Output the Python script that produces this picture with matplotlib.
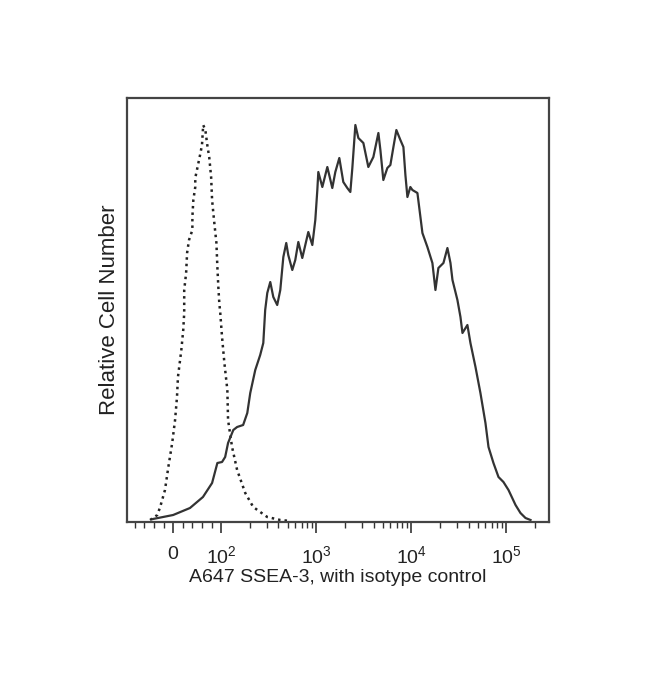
import matplotlib
matplotlib.use("Agg")
import matplotlib.pyplot as plt
from matplotlib.ticker import FixedLocator, NullLocator

plt.rcParams['font.family'] = ['Liberation Sans', 'DejaVu Sans']
plt.rcParams['mathtext.fontset'] = 'custom'
plt.rcParams['mathtext.rm'] = 'Liberation Sans'

# A647 SSEA-3 stained cells (solid line)
ssea3_x = [-42, 0, 35, 62, 81, 92, 102, 110, 118, 134, 147, 170, 188, 202,
           228, 257, 277, 290, 305, 328, 353, 388, 418, 450, 483, 507, 559,
           601, 647, 712, 766, 824, 908, 976, 1025, 1050, 1157, 1306, 1473,
           1585, 1746, 1923, 2118, 2280, 2393, 2575, 2768, 3126, 3525, 3981,
           4497, 4720, 5070, 5585, 6010, 6470, 6950, 7660, 8240, 8650, 9080,
           9750, 10250, 11570, 13060, 14730, 16630, 17900, 19230, 21730,
           23930, 25760, 27040, 30480, 32810, 34440, 38820, 41780, 47210,
           53210, 60100, 64700, 72950, 82400, 92900, 105000, 124500, 140300,
           158500, 179000]
ssea3_y = [0.5, 1.5, 3.25, 6, 9.5, 14.5, 14.75, 16, 19.5, 22.75, 23.5, 24,
           27, 32, 37.75, 41.5, 44.5, 52.75, 57, 59.75, 56, 54, 57.75, 66,
           69.5, 66.5, 62.75, 65.25, 69.75, 65.75, 69, 72.25, 69, 75.25,
           82.75, 87.25, 83.5, 88.5, 83.25, 87.25, 90.75, 84.75, 83.25,
           82.25, 88.25, 99, 95.75, 94.5, 88.5, 91, 97, 92.75, 85.25, 88.25,
           89, 93.5, 97.75, 95.25, 93.5, 86.5, 81, 83.5, 82.75, 82, 72, 68.5,
           64.5, 57.75, 63.25, 64.5, 68.25, 64.5, 60.25, 55.25, 51, 47, 49,
           44.5, 38.5, 32, 24.5, 18.5, 14.5, 11, 9.75, 7.75, 4, 2, 0.75, 0.25]

# isotype control (dotted line)
iso_x = [-48, -42, -33, -27, -17, -10, -2, 4, 8, 10, 17, 21, 23, 23, 23, 27,
         29, 33, 40, 40, 42, 46, 46, 56, 60, 62.5, 67, 71, 75, 79, 81, 85, 90,
         92, 94, 96, 98, 102, 108, 116, 118, 130, 147, 179, 217, 305, 418, 532]
iso_y = [0.25, 0.75, 1.5, 3.5, 7.75, 13.5, 19.5, 25.25, 31, 36, 42.75, 47.75,
         52, 54.5, 57.75, 62, 67, 70.25, 72.75, 76, 80.25, 83.5, 85.75, 91.5,
         94, 99, 97.75, 94, 91, 86, 80.25, 75.25, 69.5, 63.5, 58.5, 54.5, 52,
         46, 39.5, 32.75, 25.25, 18.5, 12.75, 7, 3.5, 1, 0.25, 0]

major_ticks = [0, 100, 1000, 10000, 100000]
major_labels = ['0', r'$\mathregular{10^{2}}$', r'$\mathregular{10^{3}}$',
                r'$\mathregular{10^{4}}$', r'$\mathregular{10^{5}}$']
minor_ticks = [-80, -60, -40, -20, 20, 40, 60, 80]
for dec in [100, 1000, 10000, 100000]:
    for m in range(2, 10):
        if dec * m < 280000:
            minor_ticks.append(dec * m)

fig = plt.figure(figsize=(6.5, 6.85), dpi=100)
ax = fig.add_axes([127/650, 163/685, 422/650, 424/685])

ax.plot(iso_x, iso_y, color='#222222', linewidth=1.8, linestyle=(0, (1.0, 1.6)))
ax.plot(ssea3_x, ssea3_y, color='#333333', linewidth=1.6)

ax.set_xscale('symlog', linthresh=100, linscale=0.455)
ax.set_xlim(-96, 280000)
ax.set_ylim(-0.25, 105.75)

ax.xaxis.set_major_locator(FixedLocator(major_ticks))
ax.xaxis.set_minor_locator(FixedLocator(minor_ticks))
ax.set_xticklabels(major_labels, fontsize=14, color='#222222')
ax.tick_params(axis='x', which='major', direction='out', length=8, width=1.2,
               color='#333333', pad=9)
ax.tick_params(axis='x', which='minor', direction='out', length=4, width=1.0,
               color='#333333')
ax.yaxis.set_major_locator(NullLocator())
ax.yaxis.set_minor_locator(NullLocator())

for s in ax.spines.values():
    s.set_color('#444444')
    s.set_linewidth(1.6)

ax.set_xlabel('A647 SSEA-3, with isotype control', fontsize=14, color='#222222',
              labelpad=1)
ax.set_ylabel('Relative Cell Number', fontsize=16, color='#222222', labelpad=5)

fig.savefig('out.png', dpi=100)
